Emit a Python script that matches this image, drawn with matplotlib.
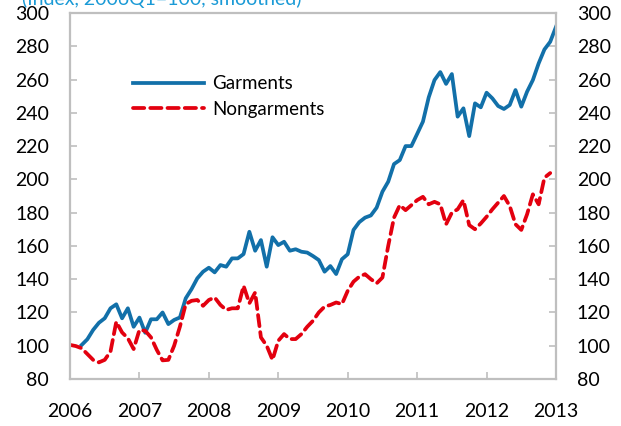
#!/usr/bin/env python3
# Garment vs nongarment index, 2006-2013

import numpy as np
import matplotlib
matplotlib.use("Agg")
import matplotlib.pyplot as plt

plt.rcParams['font.family'] = ['Lato', 'DejaVu Sans']

# monthly values, Garments start Mar-2006, Nongarments start Jan-2006
garmentsStart = 2
garments = [
    100.4, 103.9, 109.5, 113.8, 116.5, 122.5, 124.9, 116.5, 122.5, 111.4,
    116.9, 107.8, 115.9, 115.9, 120.0, 113.0, 115.5, 117.0, 128.5, 134.0,
    140.5, 144.5, 146.9, 144.1, 148.5, 147.5, 152.5, 152.5, 155.1, 168.5,
    157.1, 163.5, 147.5, 165.2, 160.5, 162.5, 157.1, 158.0, 156.5, 156.0,
    153.9, 151.5, 144.5, 147.9, 143.1, 152.0, 155.0, 169.6, 174.3, 177.0,
    178.3, 183.0, 192.6, 198.6, 209.2, 211.6, 220.0, 220.0, 227.3, 234.7,
    249.3, 259.7, 264.5, 257.4, 263.3, 237.7, 242.7, 226.0, 245.7, 243.3,
    252.1, 248.7, 244.1, 242.3, 244.7, 253.7, 243.7, 252.7, 259.7, 269.7,
    278.1, 282.7, 291.7,
]
nongarmentsStart = 0
nongarments = [
    100.5, 99.8, 98.5, 95.0, 91.5, 90.0, 91.5, 96.5, 114.4, 108.0,
    104.5, 98.0, 109.5, 109.0, 105.0, 97.5, 91.2, 91.5, 100.0, 111.5,
    125.0, 127.0, 127.5, 124.0, 127.5, 129.0, 124.5, 121.5, 122.5, 122.5,
    136.0, 125.5, 132.0, 105.0, 100.0, 91.5, 103.0, 107.0, 104.0, 104.0,
    107.0, 111.4, 115.0, 120.0, 123.5, 124.5, 126.0, 125.0, 133.0, 138.5,
    141.5, 143.0, 140.0, 137.5, 141.0, 160.0, 177.0, 184.5, 181.5, 184.5,
    187.5, 189.5, 185.0, 186.5, 185.0, 173.0, 180.0, 182.0, 187.5, 172.5,
    170.0, 173.5, 177.5, 182.0, 186.0, 190.0, 184.0, 173.0, 169.6, 179.0,
    191.0, 185.0, 201.0, 203.8,
]
years = [2006, 2007, 2008, 2009, 2010, 2011, 2012, 2013]
yTicks = [80, 100, 120, 140, 160, 180, 200, 220, 240, 260, 280, 300]
sTitle = "(Index, 2006Q1=100, smoothed)"

cBlue = "#1270a9"
cRed = "#e3000f"
cFrame = "#bfbfbf"

def month_axis(start, n):
    return years[0] + (start + np.arange(n)) / 12.0

fig = plt.figure(figsize=(6.21, 4.26), dpi=100)
ax = fig.add_axes([70/621, 1-379/426, 486/621, 366/426])

ax.plot(month_axis(garmentsStart, len(garments)), garments, color=cBlue,
        lw=2.7, label="Garments", solid_joinstyle='round')
ax.plot(month_axis(nongarmentsStart, len(nongarments)), nongarments, color=cRed,
        lw=2.7, dashes=(3.0, 1.6), label="Nongarments", dash_capstyle='round')

ax.set_xlim(years[0], years[-1])
ax.set_ylim(yTicks[0], yTicks[-1])
ax.set_xticks(years)
ax.set_yticks(yTicks)

for s in ax.spines.values():
    s.set_color(cFrame)
    s.set_linewidth(1.6)

ax.tick_params(axis='x', direction='in', length=5, width=1.2, color=cFrame,
               labelsize=14, pad=17)
ax.tick_params(axis='y', direction='in', length=5, width=1.2, color=cFrame,
               labelsize=14, pad=15, left=True, right=True,
               labelleft=True, labelright=True)

leg = ax.legend(loc='upper left', bbox_to_anchor=(0.13, 0.83), frameon=False,
                fontsize=13.5, handlelength=3.8, handletextpad=0.4,
                labelspacing=0.45, borderpad=0, borderaxespad=0)

# title sits mostly above the canvas, as in the source
fig.text(22/621, 1-5/426, sTitle, color="#1a9ad6", fontsize=14, va='baseline')

fig.savefig("out.png", dpi=100)
